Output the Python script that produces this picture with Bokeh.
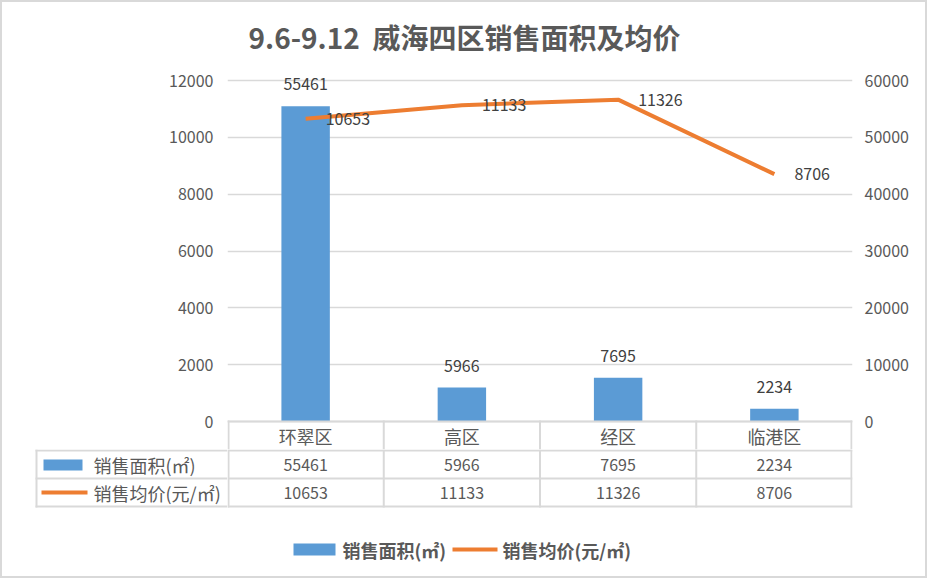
from bokeh.plotting import figure
from bokeh.layouts import column, row
from bokeh.models import (Range1d, LinearAxis, SingleIntervalTicker, ColumnDataSource,
                          LabelSet, Label, BoxAnnotation, NumeralTickFormatter)
from bokeh.core.properties import value
from bokeh.embed import file_html
from bokeh.resources import INLINE

# ---- data ----
title_text = "9.6-9.12  威海四区销售面积及均价"
districts = ["环翠区", "高区", "经区", "临港区"]
area = [55461, 5966, 7695, 2234]          # 销售面积(㎡) -> right axis
price = [10653, 11133, 11326, 8706]       # 销售均价(元/㎡) -> left axis
area_name = "销售面积(㎡)"
price_name = "销售均价(元/㎡)"
left_max, left_step = 12000, 2000
right_max, right_step = 60000, 10000

# ---- styling / layout ----
W = 923
L, R = 225, 73
FW = W - L - R            # plot-area width (625)
PH = 341                  # plot-area height for 0..max
PAD_TOP, PAD_BOT = 18, 28
H_TITLE, H_MAIN, H_TAB = 60, 387, 127
FONT = "Noto Sans CJK SC"
GRID = "#d9d9d9"
BLUE = "#5b9bd5"
ORANGE = "#ed7d31"
AXC = "#595959"
LBC = "#404040"


def bare(width, height, **kw):
    f = figure(width=width, height=height, output_backend="svg", toolbar_location=None,
               x_axis_location=None, y_axis_location=None,
               background_fill_color="white", border_fill_color="white", **kw)
    f.outline_line_color = None
    f.grid.visible = False
    return f


def box(f, l, r, b, t, color):
    f.add_layout(BoxAnnotation(left=l, right=r, bottom=b, top=t,
                               left_units="screen", right_units="screen",
                               top_units="screen", bottom_units="screen",
                               fill_color=color, fill_alpha=1, line_color=None,
                               level="overlay"))


def label(f, x, y, text, size="18px", bold=False, align="left", color=AXC):
    f.add_layout(Label(x=x, y=y, x_units="screen", y_units="screen", text=text,
                       text_align=align, text_baseline="middle", text_font=FONT,
                       text_font_size=size, text_font_style="bold" if bold else "normal",
                       text_color=color))


# ---- title (frame aligned with the plot area) ----
ft = bare(W, H_TITLE, min_border_left=L, min_border_right=R,
          min_border_top=0, min_border_bottom=0)
label(ft, 237, 26, title_text.replace("  ", " \u00a0"), size="28px", bold=True,
      align="center")

# ---- main plot ----
scale = left_max / PH
ratio = right_max / left_max
yr = Range1d(-PAD_BOT * scale, left_max + PAD_TOP * scale)
yr2 = Range1d(-PAD_BOT * scale * ratio, (left_max + PAD_TOP * scale) * ratio)
p = figure(width=W, height=H_MAIN, x_range=districts, y_range=yr,
           output_backend="svg", toolbar_location=None, x_axis_location=None,
           min_border_left=L, min_border_right=R, min_border_top=0, min_border_bottom=0,
           background_fill_color="white", border_fill_color="white")
p.outline_line_color = None
p.extra_y_ranges = {"right": yr2}

lt = SingleIntervalTicker(interval=left_step, num_minor_ticks=0)
ya = p.yaxis[0]
ya.ticker = lt
ya.formatter = NumeralTickFormatter(format="0")
ra = LinearAxis(y_range_name="right",
                ticker=SingleIntervalTicker(interval=right_step, num_minor_ticks=0),
                formatter=NumeralTickFormatter(format="0"))
p.add_layout(ra, "right")
for ax, so in ((ya, 14), (ra, 12)):
    ax.axis_line_color = None
    ax.major_tick_line_color = None
    ax.minor_tick_line_color = None
    ax.major_tick_out = 0
    ax.major_tick_in = 0
    ax.major_label_standoff = so
    ax.major_label_text_font = FONT
    ax.major_label_text_font_size = "16px"
    ax.major_label_text_color = AXC

p.xgrid.grid_line_color = None
p.ygrid.ticker = lt
p.ygrid.grid_line_color = GRID
p.ygrid.grid_line_width = 1.5

n = len(districts)
src = ColumnDataSource(dict(cat=districts, area=area, price=price,
                            area_s=[str(v) for v in area], price_s=[str(v) for v in price],
                            row1=[14] * n, row2=[112] * n, row3=[84] * n))

p.vbar(x="cat", top="area", width=0.31, source=src, y_range_name="right",
       fill_color=BLUE, line_color=None)
p.line(x="cat", y="price", source=src, line_color=ORANGE, line_width=4, line_join="round")

p.add_layout(LabelSet(x="cat", y="area", text="area_s", source=src, y_range_name="right",
                      y_offset=22, text_align="center", text_baseline="middle",
                      text_font=value(FONT), text_font_size="16px", text_color=LBC))
p.add_layout(LabelSet(x="cat", y="price", text="price_s", source=src,
                      x_offset=20, text_align="left", text_baseline="middle",
                      text_font=value(FONT), text_font_size="16px", text_color=LBC))
# category row of the data table
p.add_layout(LabelSet(x="cat", y="row1", y_units="screen", text="cat", source=src,
                      text_align="center", text_baseline="middle",
                      text_font=value(FONT), text_font_size="18px", text_color=AXC))
box(p, 0, FW, 27, 29, GRID)
cw = FW / n
for i in range(n + 1):
    xx = min(max(cw * i, 1), FW - 1)
    box(p, xx - 1, xx + 1, 0, 29, GRID)

# ---- data table: legend column ----
fl = bare(L, H_TAB, min_border=0)
for yy in (126, 98, 70):
    box(fl, 33, L, yy - 1, yy + 1, GRID)
box(fl, 33, 35, 69, 127, GRID)
box(fl, 41, 80, 106, 117, BLUE)
box(fl, 39, 85, 82, 86, ORANGE)
label(fl, 91, 112, area_name)
label(fl, 91, 84, price_name)

# ---- data table: values + bottom legend ----
fv = figure(width=W - L, height=H_TAB, x_range=p.x_range, output_backend="svg",
            toolbar_location=None, x_axis_location=None, y_axis_location=None,
            min_border_left=0, min_border_right=R, min_border_top=0, min_border_bottom=0,
            background_fill_color="white", border_fill_color="white")
fv.outline_line_color = None
fv.grid.visible = False
for yy in (126, 98, 70):
    box(fv, 0, FW, yy - 1, yy + 1, GRID)
for i in range(n + 1):
    xx = min(max(cw * i, 1), FW - 1)
    box(fv, xx - 1, xx + 1, 69, 127, GRID)
for col, txt in (("row2", "area_s"), ("row3", "price_s")):
    fv.add_layout(LabelSet(x="cat", y=col, y_units="screen", text=txt, source=src,
                           text_align="center", text_baseline="middle",
                           text_font=value(FONT), text_font_size="16px", text_color=AXC))
box(fv, 66, 108, 21, 33, BLUE)
box(fv, 225, 270, 25, 29, ORANGE)
label(fv, 115, 27, area_name, bold=True)
label(fv, 275, 27, price_name, bold=True)

layout = column(ft, p, row(fl, fv, spacing=0), spacing=0,
                styles={"border": "2px solid #d9d9d9"})

open("out.html", "w").write(file_html(layout, INLINE))
